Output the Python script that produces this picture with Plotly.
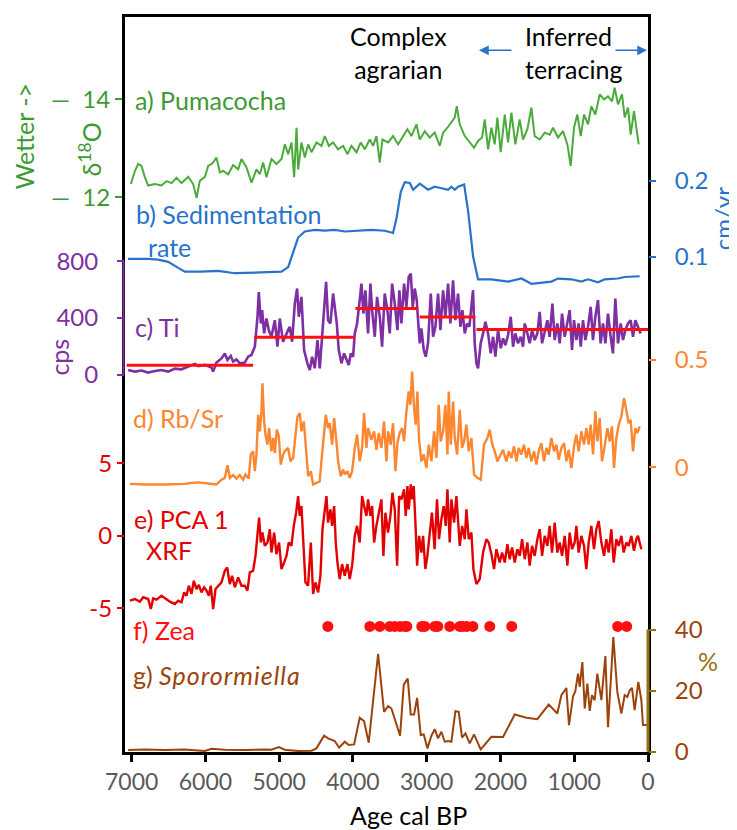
import plotly.graph_objects as go

# ---------------- data ----------------
green_age = [7010,6955,6911,6866,6821,6776,6685,6595,6527,6459,6392,6324,6233,6166,6120,6075,6008,5962,5908,5850,5804,5759,5691,5624,5556,5511,5443,5375,5307,5262,5217,5172,5104,5036,4968,4923,4878,4833,4797,4765,4742,4697,4652,4607,4562,4494,4426,4381,4327,4269,4201,4133,4074,4020,3952,3894,3839,3772,3727,3681,3636,3600,3523,3456,3388,3320,3261,3207,3139,3094,3026,2959,2891,2823,2778,2719,2674,2620,2593,2552,2484,2417,2358,2304,2249,2213,2168,2123,2078,2042,1997,1942,1897,1852,1798,1739,1694,1635,1581,1536,1468,1400,1332,1287,1220,1152,1093,1048,1003,958,912,867,813,768,714,655,596,542,488,452,407,352,316,271,235,190,158,126]
green_d18o = [12.27,12.54,12.68,12.64,12.41,12.24,12.27,12.24,12.33,12.29,12.40,12.29,12.42,12.27,11.99,12.34,12.41,12.64,12.69,12.81,12.51,12.54,12.47,12.66,12.57,12.78,12.61,12.30,12.57,12.47,12.71,12.41,12.78,12.68,12.78,13.08,12.88,13.12,12.41,13.42,12.57,13.12,12.81,13.08,12.92,13.12,13.05,13.25,13.05,13.12,12.98,13.05,12.88,13.05,12.92,13.12,12.98,13.18,13.05,13.25,12.71,13.18,13.12,13.25,13.08,13.25,13.39,13.25,13.49,13.18,13.35,13.22,13.32,13.05,13.32,13.42,13.52,13.63,13.86,13.49,13.25,13.12,13.01,13.15,13.22,13.59,12.98,13.42,13.08,13.63,12.92,13.69,13.12,13.73,13.08,13.59,13.18,13.39,13.83,13.25,13.18,13.32,13.28,13.42,13.22,13.35,13.08,12.64,13.42,13.69,13.25,13.69,13.49,13.86,13.69,14.10,14.00,14.06,13.96,14.24,13.90,14.10,13.63,13.83,13.28,13.76,13.42,13.08]

sed_age = [7050,6776,6640,6505,6369,6279,6053,5827,5601,5375,5195,4969,4878,4811,4743,4652,4517,4381,4246,4110,3930,3749,3568,3456,3410,3352,3297,3230,3184,3094,2981,2891,2800,2710,2665,2620,2575,2493,2439,2371,2304,2123,1897,1716,1581,1310,1220,1039,903,813,678,587,407,316,113]
sed_rate = [0.097,0.097,0.096,0.093,0.085,0.080,0.080,0.081,0.078,0.079,0.079,0.080,0.086,0.105,0.125,0.133,0.135,0.134,0.135,0.133,0.134,0.135,0.134,0.131,0.150,0.185,0.198,0.197,0.188,0.196,0.188,0.192,0.190,0.188,0.192,0.188,0.192,0.195,0.160,0.100,0.070,0.070,0.067,0.071,0.064,0.067,0.071,0.070,0.067,0.070,0.066,0.070,0.071,0.073,0.074]

ti_age = [7047,6956,6866,6776,6685,6595,6505,6414,6324,6234,6143,6098,6008,5918,5895,5850,5782,5737,5701,5656,5624,5579,5534,5466,5421,5376,5330,5294,5276,5249,5231,5204,5172,5141,5105,5059,5023,4992,4947,4879,4856,4825,4788,4757,4734,4698,4662,4617,4585,4553,4517,4481,4450,4418,4391,4364,4337,4305,4269,4246,4219,4192,4156,4120,4088,4057,4029,3998,3975,3944,3908,3885,3858,3831,3795,3763,3740,3704,3673,3636,3605,3569,3533,3501,3469,3433,3397,3370,3343,3307,3275,3244,3216,3189,3162,3135,3117,3094,3072,3040,3013,2982,2945,2914,2882,2846,2814,2778,2747,2710,2679,2643,2611,2575,2543,2516,2484,2453,2421,2394,2372,2349,2326,2304,2268,2236,2204,2168,2132,2100,2069,2033,1996,1965,1933,1897,1861,1829,1798,1762,1726,1694,1671,1635,1604,1572,1536,1500,1468,1436,1400,1364,1333,1296,1265,1229,1197,1165,1129,1093,1062,1030,1003,971,940,912,881,849,813,777,746,714,678,642,610,578,542,506,475,443,407,370,339,307,271,235,203,172,136,100]
ti_cps = [34,23,30,16,27,34,23,44,39,58,77,62,70,51,23,86,116,151,105,133,93,109,81,86,128,140,198,409,584,362,456,292,397,315,268,385,198,397,233,315,339,233,502,608,409,549,175,81,34,128,46,245,46,268,502,655,385,362,573,479,362,175,81,151,116,70,151,128,292,362,526,643,432,596,292,643,456,268,549,409,198,573,456,292,643,502,315,596,362,643,479,690,713,479,608,526,385,222,327,175,128,222,573,268,339,573,315,596,409,643,362,666,385,573,339,456,292,362,339,502,596,222,81,46,222,292,374,292,151,268,128,315,187,257,210,280,409,198,292,222,268,198,362,292,222,315,245,292,444,222,315,385,268,502,245,362,222,432,268,362,456,175,385,245,362,198,385,245,339,479,245,409,526,222,362,222,432,268,151,538,222,362,245,315,362,385,268,385,339,292]

ti_mean_from = [7068, 5339, 3966, 3094, 2326]
ti_mean_to = [5353, 3975, 3117, 2340, 0]
ti_mean_cps = [68, 264, 468, 407, 320]

rbsr_age = [7024,6821,6550,6279,6189,6098,5963,5850,5782,5737,5701,5669,5624,5579,5534,5488,5457,5412,5385,5353,5330,5308,5285,5263,5240,5227,5204,5186,5159,5136,5105,5082,5059,5032,5005,4978,4946,4924,4879,4847,4811,4779,4752,4720,4698,4666,4639,4607,4571,4540,4495,4450,4427,4395,4368,4337,4314,4282,4255,4224,4201,4165,4133,4111,4075,4043,4011,3975,3944,3908,3876,3849,3817,3795,3750,3713,3682,3650,3614,3578,3546,3524,3487,3456,3424,3397,3367,3334,3307,3275,3244,3221,3198,3171,3149,3126,3104,3072,3040,3004,2972,2936,2900,2868,2837,2810,2778,2746,2719,2701,2674,2642,2620,2588,2552,2521,2493,2462,2430,2394,2358,2313,2268,2223,2177,2146,2110,2078,2042,1997,1965,1920,1888,1852,1816,1784,1753,1717,1681,1649,1617,1581,1545,1513,1482,1446,1409,1378,1346,1310,1274,1242,1211,1174,1138,1107,1075,1039,1003,971,940,903,867,836,804,777,745,714,687,655,623,587,551,519,488,461,429,397,361,325,294,262,235,203,172,145,113]
rbsr_val = [-0.078,-0.081,-0.081,-0.078,-0.073,-0.071,-0.076,-0.081,-0.058,-0.050,0.009,-0.050,-0.037,-0.053,-0.037,-0.058,-0.034,-0.053,0.059,0.074,-0.019,0.059,0.244,0.167,0.260,0.391,0.213,0.152,0.105,0.182,0.074,0.136,0.066,0.175,0.144,0.012,0.059,0.074,0.090,0.027,0.043,0.144,0.236,0.252,0.167,0.213,0.105,-0.042,-0.019,-0.081,-0.073,-0.066,0.027,0.128,0.244,0.182,0.205,0.105,0.229,0.120,0.027,-0.042,-0.011,-0.034,-0.019,-0.050,-0.019,0.090,0.152,0.027,0.090,0.252,0.090,0.182,0.128,0.167,0.081,0.159,0.090,0.213,0.027,0.167,0.105,0.205,-0.019,0.112,0.159,0.182,0.120,0.260,0.353,0.291,0.446,0.275,0.198,0.353,0.128,0.027,0.059,-0.004,0.105,0.027,0.167,0.043,0.291,0.120,0.167,0.291,0.059,0.353,0.105,0.306,0.136,0.059,0.267,0.090,0.120,0.198,0.074,0.136,-0.034,-0.050,-0.058,0.105,0.136,0.175,0.105,0.074,0.027,0.059,0.081,0.027,0.074,0.043,0.097,0.027,0.090,0.059,0.105,0.043,0.090,0.027,0.074,0.012,0.074,0.112,0.027,0.090,0.059,0.136,0.074,0.105,0.035,0.090,0.112,0.027,0.081,-0.004,0.097,0.152,0.074,0.167,0.105,0.182,0.105,0.198,0.059,0.260,0.120,0.229,0.027,0.097,0.182,0.120,0.190,-0.004,0.136,0.198,0.236,0.322,0.260,0.205,0.221,0.074,0.182,0.159,0.190]

pca_age = [7024,6956,6889,6844,6776,6740,6708,6663,6595,6527,6482,6414,6369,6324,6288,6256,6225,6189,6157,6121,6089,6053,6017,5985,5954,5927,5895,5863,5827,5782,5737,5705,5669,5638,5601,5556,5511,5466,5430,5398,5353,5321,5294,5272,5249,5227,5195,5159,5127,5105,5068,5037,5001,4969,4933,4901,4870,4834,4802,4770,4743,4721,4698,4675,4644,4608,4571,4540,4508,4472,4441,4413,4382,4359,4337,4305,4282,4255,4233,4210,4179,4147,4111,4075,4043,4011,3975,3944,3908,3876,3849,3817,3795,3763,3740,3713,3682,3650,3614,3587,3560,3524,3492,3465,3433,3401,3374,3343,3307,3284,3261,3243,3216,3198,3176,3153,3130,3103,3072,3049,3018,2991,2960,2929,2893,2860,2833,2801,2769,2742,2719,2688,2665,2629,2597,2575,2552,2520,2484,2462,2430,2394,2367,2326,2281,2236,2191,2159,2123,2087,2055,2010,1978,1942,1906,1875,1843,1807,1771,1739,1707,1671,1635,1604,1572,1536,1500,1468,1436,1400,1364,1333,1301,1265,1229,1197,1165,1129,1093,1062,1030,994,971,940,903,867,836,804,768,732,700,669,632,596,565,533,497,465,429,397,361,330,294,262,226,190,158,136,90]
pca_val = [-4.47,-4.36,-4.54,-4.24,-4.36,-5.05,-4.31,-4.40,-4.13,-4.36,-4.54,-4.70,-4.47,-4.59,-3.90,-4.13,-3.44,-4.01,-3.10,-3.67,-3.39,-3.90,-3.55,-3.78,-4.13,-3.44,-5.05,-3.67,-3.44,-3.21,-2.41,-2.18,-3.33,-2.75,-3.55,-2.87,-3.44,-3.44,-3.78,-2.52,-2.41,-1.38,0.11,1.26,-0.46,0.23,-0.69,-0.46,0.46,-1.15,0.23,-1.26,-0.46,-2.29,-1.84,-1.38,-0.46,-0.69,0.69,1.60,2.75,1.38,2.06,0.00,-3.21,-3.44,-0.46,-4.01,-3.21,-3.90,-2.75,0.46,1.60,2.75,0.92,1.83,0.69,2.06,-0.46,-1.84,-2.98,-1.95,-2.75,-1.95,-2.98,-2.06,0.00,0.69,-0.46,2.75,2.06,1.38,2.52,1.38,2.06,-0.46,0.69,1.60,2.52,-1.38,1.60,0.23,1.38,2.98,1.83,-2.06,2.75,2.52,3.21,1.38,3.44,1.83,3.55,2.52,3.44,0.92,-2.06,0.00,-1.15,0.00,-2.29,-1.38,0.00,1.60,-0.92,2.52,-0.23,1.15,2.06,0.69,3.21,-0.46,2.52,0.92,2.75,1.38,-0.69,0.69,-0.23,1.83,-0.23,0.23,-2.29,-3.33,-2.98,-1.15,-0.23,-0.46,-1.26,-2.29,-0.92,-1.84,-1.15,-1.84,-0.57,-1.61,-0.80,-1.84,-0.92,-1.38,-0.23,-1.61,-0.46,-2.06,-0.69,-1.38,-0.23,0.46,-1.38,0.00,-0.69,0.69,-1.15,0.92,-1.15,-0.46,-1.38,0.00,-2.06,0.23,-0.92,-0.46,0.69,-1.15,0.00,-0.69,-2.29,-0.46,0.69,-0.92,0.46,1.03,-0.46,-1.38,-0.23,-1.15,0.46,-1.84,-0.23,-0.69,0.00,-1.15,-0.46,-0.69,0.00,-1.03,-0.23,0.00,-0.92]

zea_age = [4340,3771,3636,3500,3432,3360,3297,3270,3067,3026,2890,2850,2687,2551,2511,2457,2375,2145,1847,411,289]
zea_level = [41]*len(zea_age)

spor_age = [7047,6821,6550,6279,6008,5918,5737,5466,5195,5105,5005,4924,4743,4562,4495,4450,4391,4336,4282,4246,4188,4111,4057,3984,3908,3849,3786,3727,3659,3578,3524,3478,3424,3361,3311,3257,3216,3171,3130,3081,3040,2990,2936,2891,2846,2801,2756,2710,2665,2611,2566,2521,2475,2417,2358,2268,2123,1965,1807,1649,1500,1346,1229,1174,1107,1071,1016,985,949,926,890,858,822,790,759,723,687,632,578,542,470,416,361,316,280,248,217,181,131,90,68,9]
spor_pct = [0.55,0.76,0.55,0.76,0.22,0.98,0.66,0.55,0.76,0.66,1.53,0.66,0.22,0.33,1.09,2.72,5.22,4.35,3.70,3.48,1.31,3.27,2.18,2.39,11.09,10.0,2.94,17.4,32.07,13.05,14.9,14.13,9.79,5.22,21.96,23.92,12.18,12.18,17.61,5.44,5.66,1.09,5.22,7.39,4.35,6.53,3.27,3.48,3.27,13.27,13.05,4.57,5.98,2.72,5.66,0.76,4.89,4.79,12.18,11.09,10.66,15.44,12.5,18.5,20.87,8.7,18.16,19.79,25.55,21.2,29.35,14.13,22.29,13.37,18.5,16.85,25.55,16.85,31.3,8.05,37.5,19.57,12.5,18.5,17.94,20.11,20.87,13.59,22.83,16.85,8.7,8.7]

x_ticks = [7000, 6000, 5000, 4000, 3000, 2000, 1000, 0]

# ---------------- styles ----------------
GREEN_LINE, GREEN_TXT = "#4aab3b", "#3d9a32"
BLUE = "#2673c9"
PURPLE = "#7e2fa3"
ORANGE = "#fd8630"
RED = "#e30000"
BRIGHT_RED = "#ff1010"
BROWN = "#9c430c"
OLIVE = "#9a7012"
FONT = "Lato"
LBL = 25      # panel label size
TICK = 24     # tick label size

# page is rendered with an 8px body margin
PAGE_W, PAGE_H, OFF = 737, 830, 8
W, H = PAGE_W - OFF, PAGE_H - OFF
# plot box in page pixels
L, R, T, B = 125, 648, 14, 752


def px(xp):
    return (xp - L) / (R - L)


def py(yp):
    return (B - yp) / (B - T)


def yrange(v1, p1, v2, p2):
    s = (v2 - v1) / (p1 - p2)
    return [v1 - (B - p1) * s, v1 + (p1 - T) * s]


fig = go.Figure()
fig.add_trace(go.Scatter(x=green_age, y=green_d18o, mode="lines", line=dict(color=GREEN_LINE, width=2), yaxis="y"))
fig.add_trace(go.Scatter(x=sed_age, y=sed_rate, mode="lines", line=dict(color=BLUE, width=2.2), yaxis="y2"))
fig.add_trace(go.Scatter(x=ti_age, y=ti_cps, mode="lines", line=dict(color=PURPLE, width=2.6), yaxis="y3"))
mx, my = [], []
for a, b, v in zip(ti_mean_from, ti_mean_to, ti_mean_cps):
    mx += [a, b, None]
    my += [v, v, None]
fig.add_trace(go.Scatter(x=mx, y=my, mode="lines", line=dict(color=BRIGHT_RED, width=3), yaxis="y3"))
fig.add_trace(go.Scatter(x=rbsr_age, y=rbsr_val, mode="lines", line=dict(color=ORANGE, width=2.4), yaxis="y4"))
fig.add_trace(go.Scatter(x=pca_age, y=pca_val, mode="lines", line=dict(color=RED, width=2.4), yaxis="y5"))
fig.add_trace(go.Scatter(x=zea_age, y=zea_level, mode="markers", marker=dict(color=BRIGHT_RED, size=11), yaxis="y6"))
fig.add_trace(go.Scatter(x=spor_age, y=spor_pct, mode="lines", line=dict(color=BROWN, width=2), yaxis="y6"))


def yax(color, tickcolor=None, **kw):
    d = dict(showgrid=False, zeroline=False, ticks="outside", ticklen=7, tickwidth=2,
             tickcolor=tickcolor or color, tickfont=dict(family=FONT, size=TICK, color=color))
    d.update(kw)
    return d


fig.update_layout(
    width=W, height=H,
    margin=dict(l=L - OFF, r=PAGE_W - R, t=T - OFF, b=PAGE_H - B),
    paper_bgcolor="white", plot_bgcolor="white",
    showlegend=False,
    font=dict(family=FONT, size=LBL, color="black"),
    xaxis=dict(range=[7090, 0], tickvals=x_ticks, ticktext=[str(v) for v in x_ticks],
               showgrid=False, zeroline=False, showline=True, mirror=True, linecolor="black", linewidth=3,
               ticks="outside", ticklen=7, tickwidth=3, tickcolor="black",
               tickfont=dict(family=FONT, size=23, color="#595959")),
    yaxis=yax(GREEN_TXT, range=yrange(12, 195, 14, 96.7), tickvals=[12, 14],
              ticktext=["\u2014\u00a0\u00a012", "\u2014\u00a0\u00a014"], side="left",
              showline=True, mirror=True, linecolor="black", linewidth=3),
    yaxis2=yax(BLUE, overlaying="y", side="right", range=yrange(0.1, 254.5, 0.2, 178.3),
               tickvals=[0.1, 0.2], ticktext=["0.1", "0.2"], ticklabelstandoff=14),
    yaxis3=yax(PURPLE, overlaying="y", side="left", range=yrange(0, 373.3, 800, 259.3),
               tickvals=[0, 400, 800], ticktext=["0", "400", "800"], ticklabelstandoff=14),
    yaxis4=yax(ORANGE, overlaying="y", side="right", range=yrange(0, 466, 0.5, 358.3),
               tickvals=[0, 0.5], ticktext=["0", "0.5"], ticklabelstandoff=14),
    yaxis5=yax(RED, overlaying="y", side="left", range=yrange(-5, 607.7, 5, 462.3),
               tickvals=[-5, 0, 5], ticktext=["-5", "0", "5"]),
    yaxis6=yax(BROWN, tickcolor=OLIVE, overlaying="y", side="right", range=yrange(0, 751.7, 40, 629),
               tickvals=[0, 20, 40], ticktext=["0", "20", "40"], ticklabelstandoff=14),
)

# coloured axis segments
fig.add_shape(type="line", xref="paper", yref="y3", x0=px(123.5), x1=px(123.5), y0=0, y1=800,
              line=dict(color=PURPLE, width=2))
fig.add_shape(type="line", xref="paper", yref="y6", x0=px(648), x1=px(648), y0=0, y1=40,
              line=dict(color=OLIVE, width=3))


def label(text, xp, yp, color, size=LBL, xanchor="left", angle=0, align="left"):
    fig.add_annotation(text=text, x=px(xp), y=py(yp), xref="paper", yref="paper", showarrow=False,
                       xanchor=xanchor, yanchor="middle", textangle=angle, align=align,
                       font=dict(family=FONT, size=size, color=color))


label("a) Pumacocha", 133, 97, GREEN_TXT)
label("b) Sedimentation", 134, 212, BLUE)
label("rate", 146, 245, BLUE)
label("c) Ti", 133, 325, PURPLE)
label("d) Rb/Sr", 131, 417, ORANGE)
label("e) PCA 1", 132, 518, RED)
label("XRF", 144, 549, RED)
label("f) Zea", 131, 630, BRIGHT_RED)
label("g) <i><span style='letter-spacing:1px'>Sporormiella</span></i>", 131, 675, BROWN)
label("Complex<br>agrarian", 398, 50, "black", xanchor="center", align="center")
label("Inferred<br>terracing", 523, 50, "black", xanchor="left", align="left")

label("Wetter ->", 24, 134, GREEN_TXT, xanchor="center", angle=-90)
label("\u03b4<sup>18</sup>O", 90, 147, GREEN_TXT, xanchor="center", angle=-90)
label("cps", 59, 356, PURPLE, xanchor="center", angle=-90)
label("cm/yr", 722, 217, BLUE, size=24, xanchor="center", angle=-90)
label("%", 708, 661, OLIVE, xanchor="center")
label("Age cal BP", 408, 815, "black", xanchor="center")

# period arrows
for head, tail_off in [(479, 34), (647, -33)]:
    fig.add_annotation(x=px(head), y=py(47.5), xref="paper", yref="paper", text="", showarrow=True,
                       ax=tail_off, ay=0, arrowhead=2, arrowsize=1.3, arrowwidth=1.5, arrowcolor=BLUE)

fig.write_html("out.html")
